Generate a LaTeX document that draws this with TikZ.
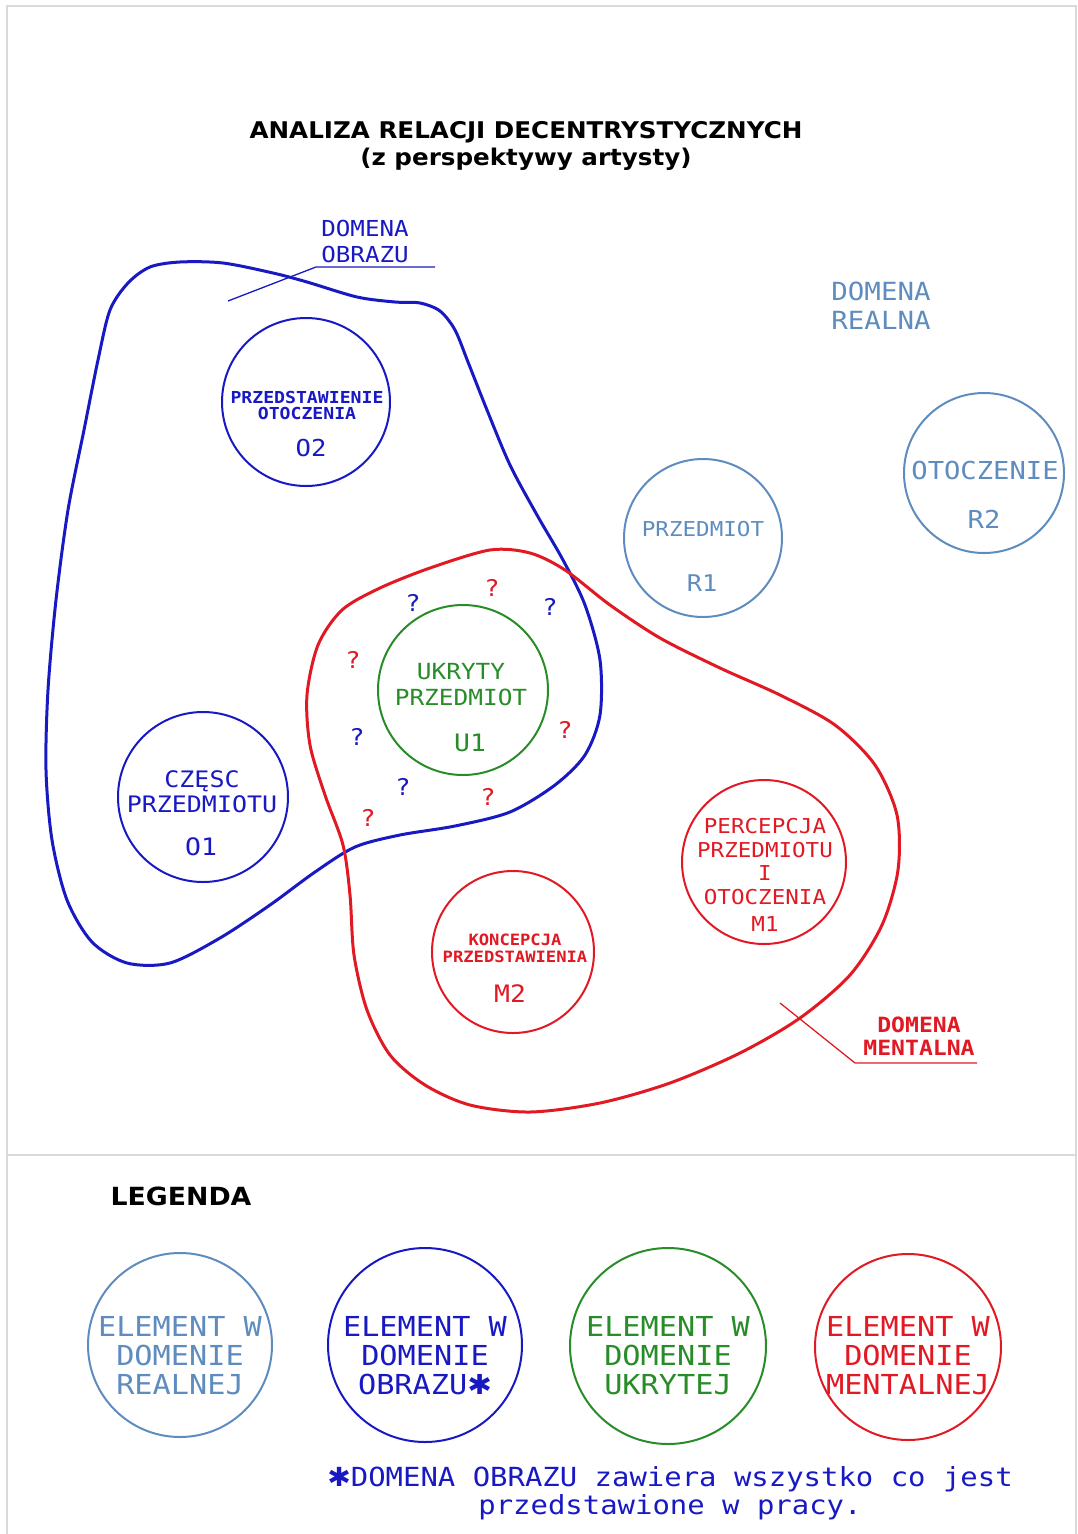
\documentclass[tikz,border=0pt]{standalone}
\usepackage{fontspec}
\setmainfont{DejaVu Sans}
\newfontfamily\headfont{DejaVu Sans}[FakeStretch=1.07]
\newfontfamily\cadfont{DejaVu Sans Mono}[FakeStretch=1.1]
\usepackage{tikz}
\newcommand{\cadsize}[2]{\cadfont\fontsize{#1}{#2}\selectfont}
\newcommand{\cadbold}[2]{\cadfont\bfseries\fontsize{#1}{#2}\selectfont}
\newcommand{\starmark}{{\headfont\char"2731}}
\definecolor{realblue}{RGB}{95,140,190}
\definecolor{obrazblue}{RGB}{25,25,195}
\definecolor{ukrgreen}{RGB}{40,140,40}
\definecolor{mentred}{RGB}{225,25,35}

\begin{document}
\begin{tikzpicture}[
    x=1pt, y=-1pt,
    elem/.style={circle, draw, line width=2pt, inner sep=0pt},
    elreal/.style={elem, draw=realblue},
    elobraz/.style={elem, draw=obrazblue},
    elukr/.style={elem, draw=ukrgreen},
    elment/.style={elem, draw=mentred},
    cad/.style={inner sep=0pt, align=center},
    domainline/.style={line width=3pt},
    leader/.style={line width=1.3pt},
    frame/.style={draw=gray!30, line width=1.5pt},
    query/.style={inner sep=0pt, font=\cadsize{23}{23}},
    head/.style={inner sep=0pt, anchor=base, font=\headfont\bfseries\fontsize{23}{23}\selectfont}
]
\useasboundingbox (0,0) rectangle (1078,1534);

% Frame
\draw[frame] (7,1534) -- (7,6) -- (1076,6) -- (1076,1534);
\draw[frame] (7,1155) -- (1076,1155);

% Title
\node[head] (title) at (526,138) {ANALIZA RELACJI DECENTRYSTYCZNYCH};
\node[head] (subtitle) at (526,165) {(z perspektywy artysty)};

% Domain outlines
\draw[domainline, obrazblue] plot[smooth cycle] coordinates {
    (110,310) (128,283) (150,267) (180,262) (223,263) (273,273) (307,282)
    (357,297) (395,302) (420,303) (440,311) (455,330) (468,362) (487,410)
    (510,465) (537,515) (563,560) (585,605) (600,660) (600,715) (585,755)
    (555,785) (510,812) (455,826) (400,835) (355,847) (315,872) (270,905)
    (220,938) (170,963) (127,963) (92,942) (67,900) (52,840) (46,770)
    (48,690) (56,600) (68,510) (84,430) (98,360)};
\draw[domainline, mentred] plot[smooth cycle] coordinates {
    (490,550) (530,553) (565,570) (610,605) (660,638) (720,668) (780,695)
    (835,725) (875,765) (897,815) (898,870) (882,925) (850,975) (800,1018)
    (740,1053) (670,1083) (600,1103) (530,1112) (470,1105) (425,1085)
    (390,1055) (367,1010) (354,955) (350,895) (343,845) (325,795) (310,745)
    (307,695) (318,645) (342,610) (380,588) (430,568)};

% Domain labels
\node[cad, obrazblue, font=\cadsize{22}{26}] (lobraz) at (365,241) {DOMENA\\OBRAZU};
\coordinate (lobrazl) at (316,267);
\coordinate (lobrazr) at (435,267);
\coordinate (lobrazend) at (228,301);
\draw[leader, obrazblue] (lobrazend) -- (lobrazl) -- (lobrazr);

\node[cad, realblue, font=\cadsize{25}{29}] (lreal) at (881,306) {DOMENA\\REALNA};

\node[cad, mentred, font=\cadbold{21}{23}] (lment) at (919,1036) {DOMENA\\MENTALNA};
\coordinate (lmentl) at (855,1063);
\coordinate (lmentr) at (977,1063);
\coordinate (lmentend) at (780,1003);
\draw[leader, mentred] (lmentend) -- (lmentl) -- (lmentr);

% Real domain
\node[elreal, minimum size=158] (r1) at (703,538) {};
\node[cad, realblue, font=\cadsize{20.5}{20.5}] (r1a) at (703,529) {PRZEDMIOT};
\node[cad, realblue, font=\cadsize{23}{23}] (r1b) at (702,583) {R1};
\node[elreal, minimum size=160] (r2) at (984,473) {};
\node[cad, realblue, font=\cadsize{24.7}{24.7}] (r2a) at (985,471) {OTOCZENIE};
\node[cad, realblue, font=\cadsize{24.7}{24.7}] (r2b) at (984,519) {R2};

% Picture domain
\node[elobraz, minimum size=168] (o2) at (306,402) {};
\node[cad, obrazblue, font=\cadbold{16.5}{16}] (o2a) at (307,405) {PRZEDSTAWIENIE\\OTOCZENIA};
\node[cad, obrazblue, font=\cadsize{23.3}{23.3}] (o2b) at (311,448) {O2};
\node[elobraz, minimum size=170] (o1) at (203,797) {};
\node[cad, obrazblue, font=\cadsize{22.7}{25}] (o1a) at (202,792) {CZĘSC\\PRZEDMIOTU};
\node[cad, obrazblue, font=\cadsize{24}{24}] (o1b) at (201,847) {O1};

% Hidden domain
\node[elukr, minimum size=170] (u1) at (463,690) {};
\node[cad, ukrgreen, font=\cadsize{22.2}{26}] (u1a) at (461,685) {UKRYTY\\PRZEDMIOT};
\node[cad, ukrgreen, font=\cadsize{24}{24}] (u1b) at (470,743) {U1};

% Question marks round the hidden object
\node[query, obrazblue] (q1) at (413,603) {?};
\node[query, obrazblue] (q2) at (550,607) {?};
\node[query, obrazblue] (q3) at (357,737) {?};
\node[query, obrazblue] (q4) at (403,787) {?};
\node[query, mentred] (q5) at (492,588) {?};
\node[query, mentred] (q6) at (353,660) {?};
\node[query, mentred] (q7) at (565,730) {?};
\node[query, mentred] (q8) at (488,797) {?};
\node[query, mentred] (q9) at (368,818) {?};

% Mental domain
\node[elment, minimum size=164] (m1) at (764,862) {};
\node[cad, mentred, font=\cadsize{20.5}{23.5}] (m1a) at (765,875) {PERCEPCJA\\PRZEDMIOTU\\I\\OTOCZENIA\\[4pt]M1};
\node[elment, minimum size=162] (m2) at (513,952) {};
\node[cad, mentred, font=\cadbold{15.6}{17}] (m2a) at (515,948) {KONCEPCJA\\PRZEDSTAWIENIA};
\node[cad, mentred, font=\cadsize{24}{24}] (m2b) at (510,994) {M2};

% Legend
\node[inner sep=0pt, font=\headfont\bfseries\fontsize{25}{25}\selectfont] (legend) at (181,1196) {LEGENDA};
\node[elreal, minimum size=184] (lg1) at (180,1345) {};
\node[cad, realblue, font=\cadsize{27.5}{29}] (lg1t) at (180,1356) {ELEMENT W\\DOMENIE\\REALNEJ};
\node[elobraz, minimum size=194] (lg2) at (425,1345) {};
\node[cad, obrazblue, font=\cadsize{27.5}{29}] (lg2t) at (425,1356) {ELEMENT W\\DOMENIE\\OBRAZU\starmark};
\node[elukr, minimum size=196] (lg3) at (668,1346) {};
\node[cad, ukrgreen, font=\cadsize{27.5}{29}] (lg3t) at (668,1356) {ELEMENT W\\DOMENIE\\UKRYTEJ};
\node[elment, minimum size=186] (lg4) at (908,1347) {};
\node[cad, mentred, font=\cadsize{27.5}{29}] (lg4t) at (908,1356) {ELEMENT W\\DOMENIE\\MENTALNEJ};

% Footnote
\node[cad, anchor=base, obrazblue, font=\cadsize{26.3}{27}] (foot1) at (670,1486) {\starmark DOMENA OBRAZU zawiera wszystko co jest};
\node[cad, anchor=base, obrazblue, font=\cadsize{26.3}{27}] (foot2) at (670,1514) {przedstawione w pracy.};
\end{tikzpicture}
\end{document}
